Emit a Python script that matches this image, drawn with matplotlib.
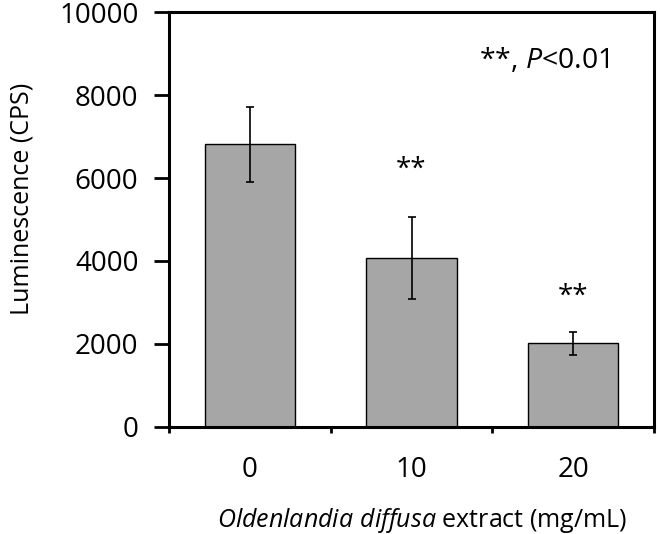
import matplotlib
matplotlib.use("Agg")
import matplotlib.pyplot as plt

# values
doses = ["0", "10", "20"]
lum = [6810, 4070, 2020]
lum_err = [910, 990, 280]
stars = ["", "**", "**"]
star_y = [0, 6020, 2960]

plt.rcParams['font.family'] = ['Open Sans', 'DejaVu Sans']
plt.rcParams['mathtext.fontset'] = 'custom'
plt.rcParams['mathtext.it'] = 'Open Sans:italic'
plt.rcParams['mathtext.rm'] = 'Open Sans'

fig = plt.figure(figsize=(6.6, 5.34), dpi=100)
ax = fig.add_axes([0.256, 0.2004, 0.735, 0.7771])

x = list(range(len(doses)))
ax.bar(x, lum, width=0.56, color="#a6a6a6", edgecolor="black", linewidth=1.0,
       yerr=lum_err, error_kw=dict(ecolor="black", elinewidth=1.2, capsize=2.6, capthick=1.2))

for i, s in enumerate(stars):
    if s:
        ax.text(i, star_y[i], s, ha="center", va="baseline", fontsize=20)

ax.text(1.82, 8650, r"**, $\it{P}$<0.01", ha="center", va="baseline", fontsize=20.5)

ax.set_xlim(-0.5, 2.5)
ax.set_ylim(0, 10000)
ax.set_yticks(range(0, 10001, 2000))
ax.set_xticks([-0.5, 0.5, 1.5, 2.5])
ax.set_xticklabels([])
ax.set_xticks(x, minor=True)
ax.set_xticklabels(doses, minor=True, fontsize=20)
ax.tick_params(axis="x", which="minor", length=0, pad=21)
ax.tick_params(axis="x", which="major", direction="out", length=4, width=2)
ax.tick_params(axis="y", direction="out", length=11, width=2, labelsize=20, pad=11)

for sp in ax.spines.values():
    sp.set_linewidth(2.2)

ax.set_ylabel("Luminescence (CPS)", fontsize=18, labelpad=18)
ax.set_xlabel(r"$\it{Oldenlandia\ diffusa}$ extract (mg/mL)", fontsize=18, labelpad=16)
ax.yaxis.label.set_y(0.55)
ax.xaxis.label.set_x(0.522)

fig.savefig("out.png", dpi=100)
